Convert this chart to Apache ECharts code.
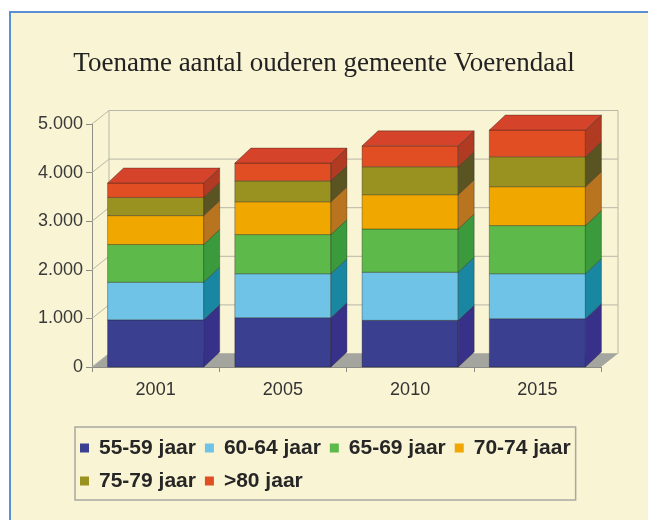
<!DOCTYPE html>
<html>
<head>
<meta charset="utf-8">
<script src="https://cdn.jsdelivr.net/npm/echarts@6/dist/echarts.min.js"></script>
<style>
html,body{margin:0;padding:0;background:#ffffff;}
#chart{width:648px;height:520px;}
</style>
</head>
<body>
<div id="chart"></div>
<script>
const titleText = 'Toename aantal ouderen gemeente Voerendaal';
const categories = ['2001', '2005', '2010', '2015'];
const seriesNames = ['55-59 jaar', '60-64 jaar', '65-69 jaar', '70-74 jaar', '75-79 jaar', '>80 jaar'];
const age55_59 = [970, 1015, 960, 995];
const age60_64 = [775, 905, 990, 925];
const age65_69 = [775, 805, 890, 990];
const age70_74 = [595, 675, 705, 800];
const age75_79 = [375, 430, 575, 615];
const age80plus = [295, 365, 430, 550];
const yTickValues = [0, 1000, 2000, 3000, 4000, 5000];
const yTickLabels = ['0', '1.000', '2.000', '3.000', '4.000', '5.000'];

const seriesValues = [age55_59, age60_64, age65_69, age70_74, age75_79, age80plus];

// styling
const frontColors = ['#3b3f8f', '#6ec3e6', '#5cb94a', '#f0a800', '#9a9220', '#e24e24'];
const sideColors  = ['#38318a', '#1a87a2', '#3a9a3c', '#b8741e', '#5a5422', '#b03a22'];
const topColor = '#d4432a';
const BAR_DX = 16, BAR_DY = 15;
const WALL_DX = 17, WALL_DY = 13.5;
const BAR_RATIO = 0.755;

// cumulative stacking table built from the arrays
const stackTables = [];
const running = categories.map(() => 0);
seriesValues.forEach((vals) => {
  const rows = vals.map((v, i) => {
    const row = [i, running[i], running[i] + v];
    running[i] += v;
    return row;
  });
  stackTables.push(rows);
});

function barRender(k) {
  const isTop = k === seriesValues.length - 1;
  return function (params, api) {
    const cat = api.value(0);
    const pB = api.coord([cat, api.value(1)]);
    const pT = api.coord([cat, api.value(2)]);
    const band = api.size([1, 0])[0];
    const w = band * BAR_RATIO;
    const x0 = pB[0] - w / 2, x1 = x0 + w;
    const yb = pB[1], yt = pT[1];
    const children = [
      { type: 'rect', shape: { x: x0, y: yt, width: w, height: yb - yt },
        style: { fill: frontColors[k], stroke: 'rgba(30,30,30,0.35)', lineWidth: 1 } },
      { type: 'polygon', shape: { points: [[x1, yb], [x1 + BAR_DX, yb - BAR_DY], [x1 + BAR_DX, yt - BAR_DY], [x1, yt]] },
        style: { fill: sideColors[k], stroke: 'rgba(30,30,30,0.35)', lineWidth: 1 } }
    ];
    if (isTop) {
      children.push({ type: 'polygon', shape: { points: [[x0, yt], [x1, yt], [x1 + BAR_DX, yt - BAR_DY], [x0 + BAR_DX, yt - BAR_DY]] },
        style: { fill: topColor, stroke: 'rgba(30,30,30,0.35)', lineWidth: 1 } });
    }
    return { type: 'group', children: children };
  };
}

function frameRender(params, api) {
  const cs = params.coordSys;
  const v = api.value(1);
  const y = api.coord([0, v])[1];
  const left = cs.x, right = cs.x + cs.width;
  const lineStyle = { stroke: '#b9b8a8', lineWidth: 1, fill: null };
  const children = [];
  if (v === 0) {
    const yTop = api.coord([0, yTickValues[yTickValues.length - 1]])[1];
    children.push({ type: 'polygon', shape: { points: [[left, y], [right, y], [right + WALL_DX, y - WALL_DY], [left + WALL_DX, y - WALL_DY]] },
      style: { fill: '#a5a59f' } });
    children.push({ type: 'line', shape: { x1: left + WALL_DX, y1: y - WALL_DY, x2: left + WALL_DX, y2: yTop - WALL_DY }, style: lineStyle });
    children.push({ type: 'line', shape: { x1: right + WALL_DX, y1: y - WALL_DY, x2: right + WALL_DX, y2: yTop - WALL_DY }, style: lineStyle });
  }
  children.push({ type: 'line', shape: { x1: left, y1: y, x2: left + WALL_DX, y2: y - WALL_DY }, style: lineStyle });
  children.push({ type: 'line', shape: { x1: left + WALL_DX, y1: y - WALL_DY, x2: right + WALL_DX, y2: y - WALL_DY }, style: lineStyle });
  return { type: 'group', children: children };
}

const chart = echarts.init(document.getElementById('chart'), null, { renderer: 'canvas' });

const series = [{
  type: 'custom',
  name: 'frame',
  z: 1,
  clip: false,
  silent: true,
  data: yTickValues.map(v => [0, v]),
  encode: { x: 0, y: 1 },
  renderItem: frameRender
}];
seriesValues.forEach((vals, k) => {
  series.push({
    type: 'custom',
    name: seriesNames[k],
    z: 2,
    clip: false,
    itemStyle: { color: frontColors[k] },
    data: stackTables[k],
    encode: { x: 0, y: [1, 2] },
    renderItem: barRender(k)
  });
});

chart.setOption({
  animation: false,
  backgroundColor: '#ffffff',
  graphic: [{
    type: 'rect', z: -10, silent: true,
    shape: { x: 10, y: 12, width: 700, height: 600 },
    style: { fill: '#f9f4d4', stroke: '#5b8fd3', lineWidth: 2 }
  }],
  title: {
    text: titleText,
    left: 'center',
    top: 45,
    textStyle: { fontFamily: 'Liberation Serif', fontSize: 27, fontWeight: 'normal', color: '#222222' }
  },
  legend: {
    data: seriesNames,
    left: 75,
    top: 427,
    width: 500,
    orient: 'horizontal',
    icon: 'rect',
    itemWidth: 9,
    itemHeight: 9,
    itemGap: 9,
    padding: [9, 5, 7, 5],
    borderColor: '#a8a8a0',
    borderWidth: 1.5,
    textStyle: { fontFamily: 'Liberation Sans', fontSize: 21, fontWeight: 'bold', color: '#262626', lineHeight: 24, padding: [0, 0, 0, 5] }
  },
  grid: { left: 92, right: 47, top: 124, bottom: 153 },
  xAxis: {
    type: 'category',
    data: categories,
    axisLine: { show: true, lineStyle: { color: '#8d8d85', width: 1 } },
    axisTick: { show: true, length: 5, lineStyle: { color: '#8d8d85' } },
    axisLabel: { margin: 14, fontFamily: 'Liberation Sans', fontSize: 18, color: '#333333' },
    splitLine: { show: false }
  },
  yAxis: {
    type: 'value',
    min: 0,
    max: 5000,
    interval: 1000,
    axisLine: { show: true, lineStyle: { color: '#8d8d85', width: 1 } },
    axisTick: { show: true, length: 6, lineStyle: { color: '#8d8d85' } },
    axisLabel: {
      margin: 9, fontFamily: 'Liberation Sans', fontSize: 18, color: '#3a3a3a',
      formatter: function (val) { const i = yTickValues.indexOf(val); return i >= 0 ? yTickLabels[i] : ''; }
    },
    splitLine: { show: false }
  },
  series: series
});
</script>
</body>
</html>
